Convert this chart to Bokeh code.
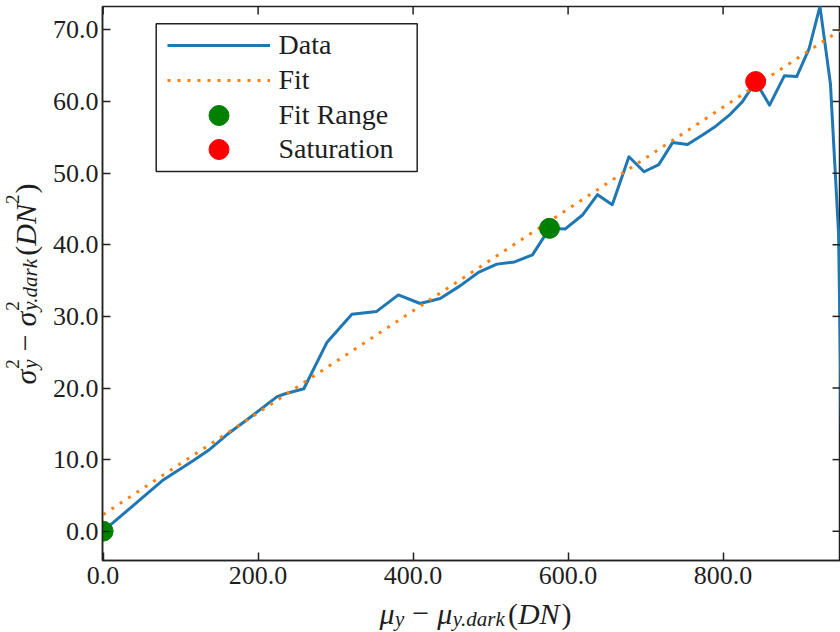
import math
from bokeh.plotting import figure
from bokeh.layouts import row, column
from bokeh.models import (Range1d, FixedTicker, NumeralTickFormatter,
                          Legend, LegendItem, Label, BoxAnnotation)
from bokeh.embed import file_html
from bokeh.resources import INLINE

# ---------------- data ----------------
data_x = [0, 78, 117, 136, 160, 186, 224.5, 235, 259, 289, 321, 353, 381, 409,
          435, 461, 485, 508, 531, 554, 576, 596, 619, 638, 657, 678.5, 698, 717,
          735, 754, 773, 791, 808, 825, 842, 860, 879, 895, 911, 925, 938.5, 949, 953]
data_y = [0.0, 7.2, 9.9, 11.3, 13.5, 15.6, 18.8, 19.2, 19.9, 26.4, 30.3, 30.7, 33.0, 31.8,
          32.5, 34.3, 36.2, 37.3, 37.6, 38.6, 42.3, 42.2, 44.2, 47.0, 45.6, 52.3, 50.2, 51.2,
          54.3, 54.0, 55.3, 56.6, 58.1, 60.0, 62.8, 59.5, 63.6, 63.5, 67.4, 73.3, 62.5, 41.6, 12.0]
fit_x = [0.0, 960.0]
fit_y = [2.33, 70.6]
fit_range_x = [0.0, 576.0]
fit_range_y = [0.0, 42.3]
sat_x = [842.0]
sat_y = [62.8]
x_ticks = [0, 200, 400, 600, 800]
y_ticks = [0, 10, 20, 30, 40, 50, 60, 70]
legend_labels = ["Data", "Fit", "Fit Range", "Saturation"]
X_START, X_END = -0.8, 951.5
Y_START, Y_END = -4.09, 73.28

# ---------------- styling / layout ----------------
W, H = 840, 632
YL_W = 48           # width of the y-title strip
XL_H = 36           # height of the x-title strip
MAIN_W, MAIN_H = W - YL_W, H - XL_H
FL, FT, FB = 102, 6, 560          # main frame edges in page pixels
AX = "#222222"
TXT = "#1e1e1e"
FONT = "Liberation Serif"

p = figure(width=MAIN_W, height=MAIN_H, output_backend="svg", toolbar_location=None,
           x_range=Range1d(X_START, X_END), y_range=Range1d(Y_START, Y_END),
           min_border_left=FL - YL_W, min_border_right=0, min_border_top=FT,
           min_border_bottom=MAIN_H - FB)
p.xgrid.visible = False
p.ygrid.visible = False
p.outline_line_color = AX
p.outline_line_width = 1.5
p.background_fill_color = "white"
p.border_fill_color = "white"

p.xaxis.ticker = FixedTicker(ticks=x_ticks)
p.yaxis.ticker = FixedTicker(ticks=y_ticks)
p.xaxis.formatter = NumeralTickFormatter(format="0.0")
p.yaxis.formatter = NumeralTickFormatter(format="0.0")
for ax in list(p.xaxis) + list(p.yaxis):
    ax.axis_line_color = AX
    ax.axis_line_width = 1.5
    ax.major_tick_line_color = AX
    ax.major_tick_line_width = 1.5
    ax.major_tick_in = 8
    ax.major_tick_out = 0
    ax.minor_tick_line_color = None
    ax.major_label_text_font = FONT
    ax.major_label_text_color = TXT
    ax.major_label_text_font_size = "26px"
p.xaxis.major_label_standoff = 6
p.yaxis.major_label_standoff = 4

# ---------------- glyphs ----------------
r_data = p.line(data_x, data_y, line_color="#1f77b4", line_width=3, line_join="round")
r_fit = p.line(fit_x, fit_y, line_color="#ff7f0e", line_width=3, line_dash="3 7")
r_range = p.scatter(fit_range_x, fit_range_y, size=20, fill_color="#008000",
                    line_color="#008000")
r_sat = p.scatter(sat_x, sat_y, size=20, fill_color="#ff0000", line_color="#ff0000")

# inward tick marks on the top and right frame edges (outer half of each dash is clipped)
p.scatter(x=x_ticks, y=[Y_END] * len(x_ticks), marker="dash", size=16, angle=math.pi / 2,
          line_color=AX, line_width=1.5)
p.scatter(x=[X_END] * len(y_ticks), y=y_ticks, marker="dash", size=16, angle=0.0,
          line_color=AX, line_width=1.5)

# ---------------- legend ----------------
box = BoxAnnotation(left=155.7 - FL, right=416.7 - FL, top=FB - 23.3, bottom=FB - 171,
                    left_units="screen", right_units="screen",
                    top_units="screen", bottom_units="screen",
                    fill_color="white", fill_alpha=1.0, line_color=AX, line_alpha=1.0,
                    line_width=1.5)
p.add_layout(box)

row_centers = [45.0, 80.0, 114.7, 149.3]
for lab, rend, cy in zip(legend_labels, [r_data, r_fit, r_range, r_sat], row_centers):
    lg = Legend(items=[LegendItem(label=lab, renderers=[rend])],
                location=(166.5 - FL, FB - (cy + 25)), glyph_width=103, glyph_height=50,
                label_standoff=9, padding=0, spacing=0, margin=0,
                border_line_alpha=0, background_fill_alpha=0,
                label_text_font=FONT, label_text_font_size="28px",
                label_text_color=TXT, label_text_baseline="middle")
    p.add_layout(lg)

# ---------------- axis titles (math-like text built from pieces) ----------------
W_REG = {"(": 0.333, ")": 0.333, "\u2212": 0.564, "2": 0.5}
W_IT = {"y": 0.444, "d": 0.5, "a": 0.5, "r": 0.389, "k": 0.444, ".": 0.25,
        "D": 0.722, "N": 0.667, "\u03bc": 0.52, "\u03c3": 0.52}
K_SHIFT = 0.3375    # label anchor sits mid-way between ascent and descent


def adv(txt, size, italic):
    t = W_IT if italic else W_REG
    return sum(t.get(c, 0.5) for c in txt) * size


def strip(w, h, bl, br, bt, bb):
    f = figure(width=w, height=h, output_backend="svg", toolbar_location=None,
               x_axis_type=None, y_axis_type=None,
               min_border_left=bl, min_border_right=br, min_border_top=bt,
               min_border_bottom=bb, x_range=Range1d(0, 1), y_range=Range1d(0, 1))
    f.outline_line_color = None
    f.background_fill_color = "white"
    f.border_fill_color = "white"
    return f


def place(fig, fl, fb, items, center, base, vertical):
    """fl, fb: page position of the strip frame's left and bottom edges."""
    total = 0.0
    for it in items:
        total += it if isinstance(it, (int, float)) else max(adv(t, s, i) for (t, s, i, d) in it)
    pos = center - total / 2.0
    for it in items:
        if isinstance(it, (int, float)):
            pos += it
            continue
        for (t, s, i, d) in it:
            if vertical:
                cx, cy, ang = base + d - K_SHIFT * s, 2 * center - pos, math.pi / 2
            else:
                cx, cy, ang = pos, base + d - K_SHIFT * s, 0.0
            fig.add_layout(Label(x=cx - fl, y=fb - cy, x_units="screen",
                                 y_units="screen", text=t, angle=ang, text_font=FONT,
                                 text_font_size="%dpx" % s,
                                 text_font_style="italic" if i else "normal",
                                 text_color=TXT, text_align="left",
                                 text_baseline="alphabetic"))
        pos += max(adv(t, s, i) for (t, s, i, d) in it)


MS, SS, PS = 30, 21, 19

# x title strip: full page width, frame aligned with the main frame horizontally
xfig = strip(W, XL_H, FL, 0, 0, 0)
x_items = [[("\u03bc", MS, True, 0)], [("y", SS, True, 2.5)], 8,
           [("\u2212", MS, False, 0)], 8,
           [("\u03bc", MS, True, 0)], [("y.dark", SS, True, 2.5)], 2,
           [("(", MS, False, 0)], [("DN", MS, True, 0)], 2, [(")", MS, False, 0)]]
place(xfig, FL, H, x_items, 475.0, 623.5, vertical=False)

# y title strip: same height and vertical borders as the main figure
yfig = strip(YL_W, MAIN_H, 0, 0, FT, MAIN_H - FB)
y_items = [[("\u03c3", MS, True, 0)], [("2", PS, False, -16.5), ("y", SS, True, 1.5)], 8,
           [("\u2212", MS, False, 0)], 8,
           [("\u03c3", MS, True, 0)], [("2", PS, False, -16.5), ("y.dark", SS, True, 1.5)], 2,
           [("(", MS, False, 0)], [("DN", MS, True, 0)], [("2", PS, False, -16.5)], 1,
           [(")", MS, False, 0)]]
place(yfig, 0, FB, y_items, 283.5, 35.0, vertical=True)

page = column(row(yfig, p, spacing=0), xfig, spacing=0)
open("out.html", "w").write(file_html(page, INLINE))
